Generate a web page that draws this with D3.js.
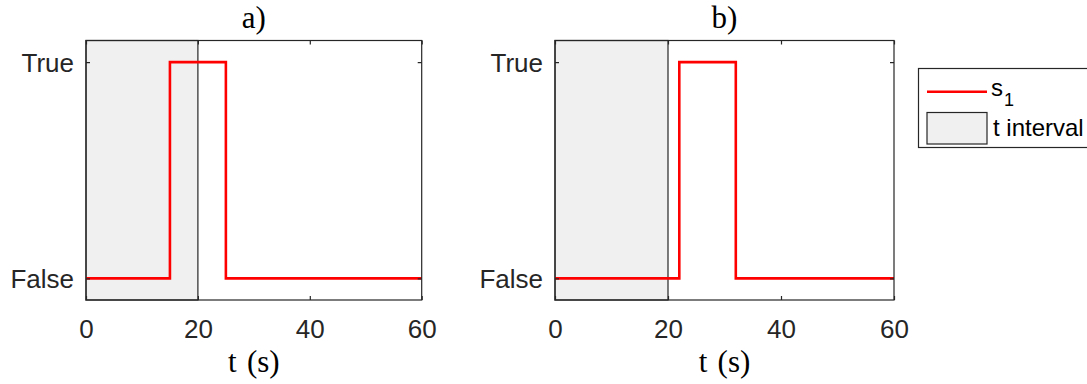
<!DOCTYPE html>
<html>
<head>
<meta charset="utf-8">
<script src="https://cdn.jsdelivr.net/npm/d3@7"></script>
<style>
  html, body { margin: 0; padding: 0; background: #fff; }
  svg { display: block; }
</style>
</head>
<body>
<svg id="chart" width="1087" height="384"></svg>
<script>
// Time axis ticks (seconds) and the two logical states
const timeTicks = [0, 20, 40, 60];
const stateValues = [0, 1];
const stateLabels = ["False", "True"];

// Panel titles and axis label
const panelTitles = ["a)", "b)"];
const timeLabel = "t\u2004(s)";

// Signal s1 as step changes: [time, state]
const signalTimesA = [0, 15, 25, 60];
const signalStatesA = [0, 1, 0, 0];
const signalTimesB = [0, 22, 32, 60];
const signalStatesB = [0, 1, 0, 0];

// Shaded time interval [start, end]
const intervalA = [0, 20];
const intervalB = [0, 20];

// Legend entries
const legendSignal = ["s", "1"];
const legendInterval = "t interval";

const svg = d3.select("#chart");
const axisColor = "#262626";
const sansFont = "'Liberation Sans', Arial, Helvetica, sans-serif";
const serifFont = "'Liberation Serif', 'Times New Roman', serif";

const panels = [
  { title: panelTitles[0], times: signalTimesA, states: signalStatesA, interval: intervalA, left: 86, right: 421.7 },
  { title: panelTitles[1], times: signalTimesB, states: signalStatesB, interval: intervalB, left: 555, right: 894 }
];
const plotTop = 40.5, plotBottom = 300;

panels.forEach(p => {
  const x = d3.scaleLinear().domain([0, 60]).range([p.left, p.right]);
  const y = d3.scaleLinear().domain([-0.1, 1.1]).range([plotBottom, plotTop]);
  const g = svg.append("g");

  // shaded interval
  g.append("rect")
    .attr("x", x(p.interval[0]))
    .attr("y", plotTop)
    .attr("width", x(p.interval[1]) - x(p.interval[0]))
    .attr("height", plotBottom - plotTop)
    .attr("fill", "#f0f0f0")
    .attr("stroke", axisColor)
    .attr("stroke-width", 1.2);

  // signal trace
  const pts = p.times.map((t, i) => [t, p.states[i]]);
  const line = d3.line().x(d => x(d[0])).y(d => y(d[1])).curve(d3.curveStepAfter);
  g.append("path")
    .attr("d", line(pts))
    .attr("fill", "none")
    .attr("stroke", "#ff0000")
    .attr("stroke-width", 2.6);

  // axes with inward ticks (mirrored on top and right)
  const tickLen = 4;
  const xb = d3.axisBottom(x).tickValues(timeTicks).tickSize(-tickLen).tickPadding(20).tickFormat(d3.format("d"));
  const xt = d3.axisTop(x).tickValues(timeTicks).tickSize(-tickLen).tickFormat("");
  const yl = d3.axisLeft(y).tickValues(stateValues).tickSize(-tickLen).tickPadding(12).tickFormat((d, i) => stateLabels[i]);
  const yr = d3.axisRight(y).tickValues(stateValues).tickSize(-tickLen).tickFormat("");

  const styleAxis = sel => {
    sel.select(".domain").remove();
    sel.selectAll("line").attr("stroke", axisColor).attr("stroke-width", 1.2);
    sel.selectAll("text").attr("fill", axisColor).style("font-family", sansFont).style("font-size", "26px");
  };
  g.append("g").attr("transform", `translate(0,${plotBottom})`).call(xb).call(styleAxis)
    .selectAll("text").attr("dy", "0.71em");
  g.append("g").attr("transform", `translate(0,${plotTop})`).call(xt).call(styleAxis);
  g.append("g").attr("transform", `translate(${p.left},0)`).call(yl).call(styleAxis)
    .selectAll("text").attr("dy", "0.36em");
  g.append("g").attr("transform", `translate(${p.right},0)`).call(yr).call(styleAxis);

  // box frame
  g.append("rect")
    .attr("x", p.left).attr("y", plotTop)
    .attr("width", p.right - p.left).attr("height", plotBottom - plotTop)
    .attr("fill", "none").attr("stroke", axisColor).attr("stroke-width", 1.2);

  const cx = (p.left + p.right) / 2;
  // title
  g.append("text")
    .attr("x", cx).attr("y", 28)
    .attr("text-anchor", "middle")
    .style("font-family", serifFont).style("font-size", "31px")
    .attr("fill", "#000")
    .text(p.title);
  // x label
  g.append("text")
    .attr("x", cx).attr("y", 372)
    .attr("text-anchor", "middle")
    .style("font-family", serifFont).style("font-size", "31px")
    .attr("fill", "#000")
    .text(timeLabel);
});

// legend
const lg = svg.append("g");
lg.append("rect")
  .attr("x", 918.5).attr("y", 68.5)
  .attr("width", 180).attr("height", 79)
  .attr("fill", "#fff").attr("stroke", axisColor).attr("stroke-width", 1.2);
lg.append("line")
  .attr("x1", 927).attr("x2", 987).attr("y1", 91.7).attr("y2", 91.7)
  .attr("stroke", "#ff0000").attr("stroke-width", 2.6);
const st = lg.append("text")
  .attr("x", 991).attr("y", 96)
  .style("font-family", sansFont).style("font-size", "24px")
  .attr("fill", "#000");
st.append("tspan").text(legendSignal[0]);
st.append("tspan").attr("dx", 1).attr("dy", 10).style("font-size", "18px").text(legendSignal[1]);
lg.append("rect")
  .attr("x", 927).attr("y", 112.5)
  .attr("width", 60).attr("height", 31.5)
  .attr("fill", "#f0f0f0").attr("stroke", axisColor).attr("stroke-width", 1.2);
lg.append("text")
  .attr("x", 993).attr("y", 136)
  .style("font-family", sansFont).style("font-size", "24px")
  .attr("fill", "#000")
  .text(legendInterval);
</script>
</body>
</html>
